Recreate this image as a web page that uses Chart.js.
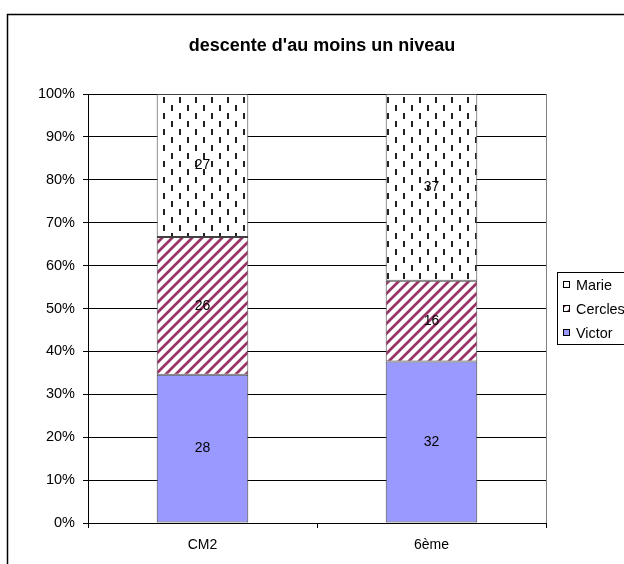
<!DOCTYPE html>
<html lang="fr">
<head>
<meta charset="UTF-8">
<title>descente d'au moins un niveau</title>
<style>
    body { margin: 0; padding: 0; background: #fff; }
    #chart { display: block; }
</style>
</head>
<body>
<canvas id="chart" width="624" height="564"></canvas>
<script src="https://cdn.jsdelivr.net/npm/chart.js"></script>
<script>
const categories = ["CM2", "6ème"];
const victor = [28, 32];
const cercles = [26, 16];
const marie = [27, 37];
const yTicks = [0, 10, 20, 30, 40, 50, 60, 70, 80, 90, 100];

const FONT = "Arial, 'Liberation Sans', sans-serif";

// motifs de remplissage
function dashPattern() {
    const c = document.createElement('canvas');
    c.width = 16; c.height = 16;
    const g = c.getContext('2d');
    g.fillStyle = '#fff';
    g.fillRect(0, 0, 16, 16);
    g.fillStyle = '#222';
    g.fillRect(3, 1, 2, 6);
    g.fillRect(11, 9, 2, 6);
    return g.createPattern(c, 'repeat');
}
function stripePattern() {
    const s = 10;
    const c = document.createElement('canvas');
    c.width = s; c.height = s;
    const g = c.getContext('2d');
    g.fillStyle = '#fff';
    g.fillRect(0, 0, s, s);
    g.strokeStyle = '#993366';
    g.lineWidth = 2.7;
    g.beginPath();
    g.moveTo(-2, s + 2); g.lineTo(s + 2, -2);
    g.moveTo(-2, 2); g.lineTo(2, -2);
    g.moveTo(s - 2, s + 2); g.lineTo(s + 2, s - 2);
    g.stroke();
    return g.createPattern(c, 'repeat');
}

const totals = categories.map((_, i) => victor[i] + cercles[i] + marie[i]);
const pct = arr => arr.map((v, i) => v / totals[i] * 100);

const series = [
    { label: "Victor", counts: victor, fill: '#9999FF' },
    { label: "Cercles", counts: cercles, fill: stripePattern() },
    { label: "Marie", counts: marie, fill: dashPattern() }
];

const extras = {
    id: 'extras',
    beforeDraw(chart) {
        const ctx = chart.ctx;
        ctx.save();
        ctx.fillStyle = '#fff';
        ctx.fillRect(0, 0, chart.width, chart.height);
        ctx.strokeStyle = '#000';
        ctx.lineWidth = 1.5;
        ctx.strokeRect(7.5, 14.5, 800, 800);
        ctx.restore();
    },
    afterDatasetsDraw(chart) {
        const ctx = chart.ctx;
        const a = chart.chartArea;
        ctx.save();
        // bord droit gris
        ctx.strokeStyle = '#808080';
        ctx.lineWidth = 1;
        ctx.beginPath();
        ctx.moveTo(Math.round(a.right) + 0.5, a.top);
        ctx.lineTo(Math.round(a.right) + 0.5, a.bottom);
        ctx.stroke();
        // valeurs dans les barres
        ctx.fillStyle = '#000';
        ctx.font = '14px ' + FONT;
        ctx.textAlign = 'center';
        ctx.textBaseline = 'middle';
        chart.data.datasets.forEach((ds, di) => {
            chart.getDatasetMeta(di).data.forEach((bar, i) => {
                const p = bar.getCenterPoint();
                ctx.fillText(String(series[di].counts[i]), p.x, p.y);
            });
        });
        // titre
        ctx.font = 'bold 18px ' + FONT;
        ctx.textBaseline = 'alphabetic';
        ctx.fillText("descente d'au moins un niveau", 322, 51);
        // légende
        ctx.textBaseline = 'middle';
        ctx.strokeStyle = '#000';
        ctx.strokeRect(557.5, 272.5, 100, 72);
        ctx.font = '14.4px ' + FONT;
        ctx.textAlign = 'left';
        const rows = [285, 309, 333];
        series.slice().reverse().forEach((s, k) => {
            const y = rows[k];
            ctx.fillStyle = s.fill;
            ctx.fillRect(563, y - 4, 7, 7);
            ctx.strokeStyle = '#000';
            ctx.strokeRect(563.5, y - 3.5, 6, 6);
            ctx.fillStyle = '#000';
            ctx.fillText(s.label, 576, y + 1);
        });
        ctx.restore();
    }
};

new Chart(document.getElementById('chart'), {
    type: 'bar',
    data: {
        labels: categories,
        datasets: series.map(s => ({
            label: s.label,
            data: pct(s.counts),
            backgroundColor: s.fill,
            borderColor: '#404040',
            borderWidth: 1,
            borderSkipped: false,
            categoryPercentage: 1,
            barPercentage: 0.4
        }))
    },
    options: {
        responsive: false,
        animation: false,
        events: [],
        layout: { padding: { top: 94, right: 78, bottom: 0, left: 0 } },
        plugins: {
            legend: { display: false },
            title: { display: false },
            tooltip: { enabled: false }
        },
        scales: {
            x: {
                stacked: true,
                offset: true,
                grid: { drawOnChartArea: false, drawTicks: true, tickLength: 5, color: '#000', offset: true },
                border: { color: '#000' },
                ticks: { color: '#000', font: { size: 14, family: FONT }, padding: 9 },
                afterFit: s => { s.height = 41; }
            },
            y: {
                stacked: true,
                min: 0,
                max: 100,
                afterBuildTicks: s => { s.ticks = yTicks.map(v => ({ value: v })); },
                grid: { color: '#000', tickLength: 5 },
                border: { color: '#000' },
                ticks: { color: '#000', font: { size: 14.5, family: FONT }, padding: 8, callback: v => v + '%' },
                afterFit: s => { s.width = 88; }
            }
        }
    },
    plugins: [extras]
});
</script>
</body>
</html>
